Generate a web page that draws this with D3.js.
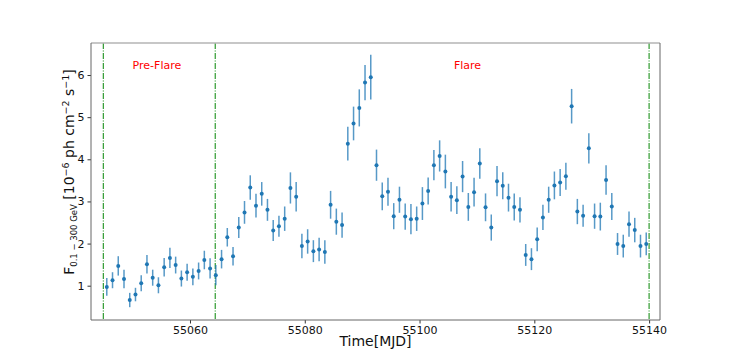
<!DOCTYPE html>
<html>
<head>
<meta charset="utf-8">
<script src="https://cdn.jsdelivr.net/npm/d3@7"></script>
<style>
body { margin: 0; background: #fff; }
text { font-family: "DejaVu Sans", sans-serif; }
</style>
</head>
<body>
<div id="chart"></div>
<script>
// daily bins, MJD bin centres
var times = [55045.5, 55046.5, 55047.5, 55048.5, 55049.5, 55050.5, 55051.5, 55052.5, 55053.5, 55054.5,
    55055.5, 55056.5, 55057.5, 55058.5, 55059.5, 55060.5, 55061.5, 55062.5, 55063.5, 55064.5,
    55065.5, 55066.5, 55067.5, 55068.5, 55069.5, 55070.5, 55071.5, 55072.5, 55073.5, 55074.5,
    55075.5, 55076.5, 55077.5, 55078.5, 55079.5, 55080.5, 55081.5, 55082.5, 55083.5, 55084.5,
    55085.5, 55086.5, 55087.5, 55088.5, 55089.5, 55090.5, 55091.5, 55092.5, 55093.5, 55094.5,
    55095.5, 55096.5, 55097.5, 55098.5, 55099.5, 55100.5, 55101.5, 55102.5, 55103.5, 55104.5,
    55105.5, 55106.5, 55107.5, 55108.5, 55109.5, 55110.5, 55111.5, 55112.5, 55113.5, 55114.5,
    55115.5, 55116.5, 55117.5, 55118.5, 55119.5, 55120.5, 55121.5, 55122.5, 55123.5, 55124.5,
    55125.5, 55126.5, 55127.5, 55128.5, 55129.5, 55130.5, 55131.5, 55132.5, 55133.5, 55134.5,
    55135.5, 55136.5, 55137.5, 55138.5, 55139.5];

var flux = [0.97, 1.13, 1.47, 1.16, 0.66, 0.79, 1.06, 1.51, 1.19, 1.01,
    1.44, 1.66, 1.49, 1.17, 1.32, 1.21, 1.35, 1.61, 1.41, 1.25,
    1.63, 2.15, 1.70, 2.38, 2.74, 3.33, 2.90, 3.18, 2.80, 2.31,
    2.41, 2.59, 3.32, 3.11, 1.94, 2.05, 1.82, 1.86, 1.80, 2.92,
    2.52, 2.44, 4.37, 4.85, 5.22, 5.82, 5.95, 3.86, 3.12, 3.23,
    2.65, 3.04, 2.64, 2.58, 2.59, 2.95, 3.25, 3.86, 4.08, 3.71,
    3.11, 3.03, 3.59, 2.87, 3.22, 3.90, 2.86, 2.38, 3.48, 3.37,
    3.09, 2.87, 2.80, 1.73, 1.63, 2.10, 2.62, 3.04, 3.38, 3.45,
    3.60, 5.26, 2.76, 2.66, 4.26, 2.65, 2.64, 3.51, 2.88, 1.99,
    1.94, 2.46, 2.32, 1.94, 1.99];

var fluxErr = [0.21, 0.19, 0.23, 0.22, 0.17, 0.16, 0.19, 0.22, 0.19, 0.19,
    0.22, 0.24, 0.20, 0.19, 0.20, 0.20, 0.20, 0.22, 0.24, 0.24,
    0.22, 0.22, 0.22, 0.25, 0.27, 0.29, 0.28, 0.28, 0.26, 0.25,
    0.25, 0.29, 0.37, 0.35, 0.29, 0.29, 0.26, 0.28, 0.28, 0.33,
    0.31, 0.30, 0.40, 0.40, 0.44, 0.42, 0.53, 0.37, 0.33, 0.33,
    0.31, 0.31, 0.31, 0.36, 0.29, 0.39, 0.32, 0.36, 0.37, 0.40,
    0.35, 0.33, 0.37, 0.33, 0.34, 0.36, 0.33, 0.31, 0.36, 0.32,
    0.33, 0.32, 0.30, 0.26, 0.26, 0.28, 0.30, 0.31, 0.33, 0.32,
    0.32, 0.41, 0.30, 0.26, 0.36, 0.30, 0.33, 0.35, 0.32, 0.26,
    0.27, 0.30, 0.29, 0.27, 0.27];

var xTicks = [55060, 55080, 55100, 55120, 55140];
var yTicks = [1, 2, 3, 4, 5, 6];

// period boundaries and their labels
var boundaries = [55044.9, 55064.4, 55140];
var periodNames = ["Pre-Flare", "Flare"];
var periodLabelX = [55050, 55106];

var w = 734,
    h = 360,
    pLeft = 91, pRight = 660, pTop = 43, pBottom = 320;

var x = d3.scaleLinear().domain([55042.75, 55141.9]).range([pLeft, pRight]);
var y = d3.scaleLinear().domain([0.186, 6.76]).range([pBottom, pTop]);

var svg = d3.select("#chart").append("svg")
    .attr("width", w)
    .attr("height", h);

// period lines
svg.append("g")
    .selectAll("line")
    .data(boundaries)
    .enter()
    .append("line")
    .attr("x1", function(d) { return x(d); })
    .attr("x2", function(d) { return x(d); })
    .attr("y1", pTop)
    .attr("y2", pBottom)
    .style("stroke", "#2e9a2e")
    .style("stroke-width", 1.2)
    .style("stroke-dasharray", "6,1.5,1,1.5");

svg.append("g")
    .selectAll("text")
    .data(periodNames)
    .enter()
    .append("text")
    .attr("x", function(d, i) { return x(periodLabelX[i]); })
    .attr("y", y(6.15))
    .style("font-size", "11px")
    .style("fill", "red")
    .text(function(d) { return d; });

// error bars
var pts = svg.append("g").attr("class", "points");

pts.selectAll("line")
    .data(flux)
    .enter()
    .append("line")
    .attr("x1", function(d, i) { return x(times[i]); })
    .attr("x2", function(d, i) { return x(times[i]); })
    .attr("y1", function(d, i) { return y(d - fluxErr[i]); })
    .attr("y2", function(d, i) { return y(d + fluxErr[i]); })
    .style("stroke", "#1f77b4")
    .style("stroke-opacity", 0.75)
    .style("stroke-width", 1.5);

pts.selectAll("circle")
    .data(flux)
    .enter()
    .append("circle")
    .attr("cx", function(d, i) { return x(times[i]); })
    .attr("cy", function(d) { return y(d); })
    .attr("r", 2)
    .style("fill", "#1f77b4");

// axes
var xAxis = d3.axisBottom(x).tickValues(xTicks).tickSize(3.5).tickPadding(3).tickFormat(d3.format("d"));
var yAxis = d3.axisLeft(y).tickValues(yTicks).tickSize(3.5).tickPadding(3).tickFormat(d3.format("d"));

var gx = svg.append("g")
    .attr("transform", "translate(0," + pBottom + ")")
    .call(xAxis);
var gy = svg.append("g")
    .attr("transform", "translate(" + pLeft + ",0)")
    .call(yAxis);

[gx, gy].forEach(function(g) {
    g.select(".domain").remove();
    g.selectAll(".tick line").style("stroke", "#333");
    g.selectAll(".tick text")
        .style("font-family", "DejaVu Sans, sans-serif")
        .style("font-size", "11px")
        .style("fill", "#111");
});

// frame
svg.append("line").attr("x1", pLeft).attr("x2", pRight).attr("y1", pTop).attr("y2", pTop)
    .style("stroke", "#b5b5b5").style("stroke-width", 1.5);
svg.append("line").attr("x1", pLeft).attr("x2", pRight).attr("y1", pBottom).attr("y2", pBottom)
    .style("stroke", "#666");
svg.append("line").attr("x1", pLeft).attr("x2", pLeft).attr("y1", pTop).attr("y2", pBottom)
    .style("stroke", "#666");
svg.append("line").attr("x1", pRight).attr("x2", pRight).attr("y1", pTop).attr("y2", pBottom)
    .style("stroke", "#666");

// axis labels
svg.append("text")
    .attr("x", (pLeft + pRight) / 2)
    .attr("y", 346)
    .attr("text-anchor", "middle")
    .style("font-size", "14px")
    .style("fill", "#111")
    .text("Time[MJD]");

var yl = svg.append("text")
    .attr("transform", "translate(74,172) rotate(-90)")
    .attr("text-anchor", "middle")
    .style("font-size", "14px")
    .style("fill", "#111");
yl.append("tspan").text("F");
yl.append("tspan").attr("dy", 3).style("font-size", "8.5px").text("0.1\u00a0\u2212\u00a0300\u00a0GeV");
yl.append("tspan").attr("dy", -3).text("\u00a0[10");
yl.append("tspan").attr("dy", -5).style("font-size", "9.5px").text("\u22126");
yl.append("tspan").attr("dy", 5).text("\u00a0ph\u00a0cm");
yl.append("tspan").attr("dy", -5).style("font-size", "9.5px").text("\u22122");
yl.append("tspan").attr("dy", 5).text("\u00a0s");
yl.append("tspan").attr("dy", -5).style("font-size", "9.5px").text("\u22121");
yl.append("tspan").attr("dy", 5).text("]");
</script>
</body>
</html>
